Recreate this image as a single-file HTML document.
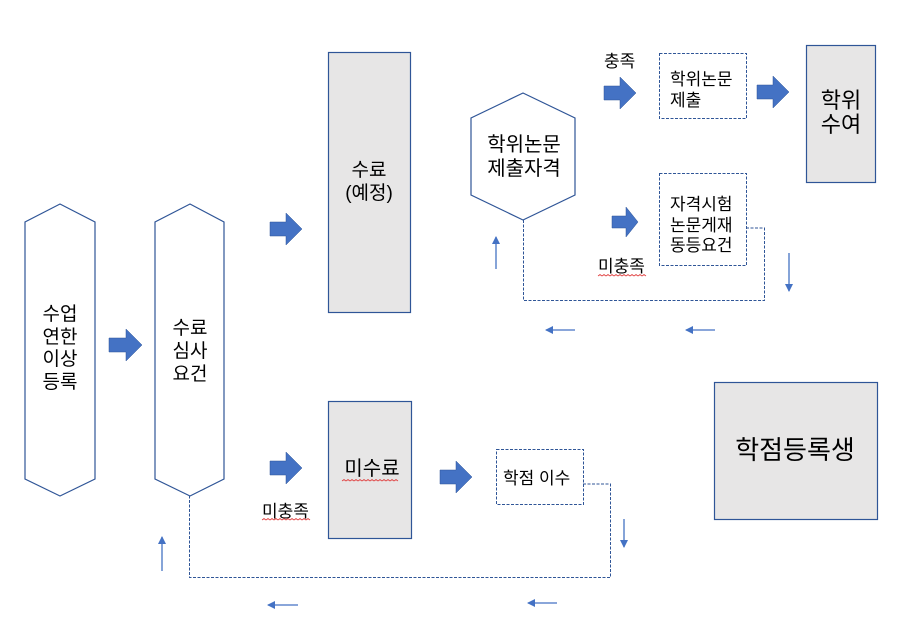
<!DOCTYPE html>
<html><head><meta charset="utf-8"><style>
html,body{margin:0;padding:0;background:#fff;}
svg{display:block;}
text{font-family:"Liberation Sans","Noto Sans CJK KR",sans-serif;fill:#000;}
</style></head><body>
<svg width="903" height="624" viewBox="0 0 903 624" xmlns="http://www.w3.org/2000/svg">
<defs>
<marker id="ah" markerWidth="8" markerHeight="8" refX="7" refY="4" orient="auto" markerUnits="userSpaceOnUse">
<path d="M0,0 L8,4 L0,8 z" fill="#4472c4"/></marker>
</defs>
<g fill="none" stroke="#2f5597" stroke-width="1.2">
<polygon points="60,204 95,222 95,479 60,496 25,479 25,222" fill="#fff"/>
<polygon points="190,204 224,222 224,479 190,496 155,479 155,222" fill="#fff"/>
<polygon points="523,93 575,118 575,195 523,220 471,195 471,118" fill="#fff"/>
<rect x="328.5" y="52.5" width="82" height="260" fill="#e7e6e6"/>
<rect x="328.5" y="401.5" width="83" height="137" fill="#e7e6e6"/>
<rect x="806.5" y="45.5" width="69" height="137" fill="#e7e6e6"/>
<rect x="714.5" y="382.5" width="163" height="137" fill="#e7e6e6"/>
</g>
<g fill="none" stroke="#2f5597" stroke-width="1" stroke-dasharray="3,1.5">
<rect x="659.5" y="53.5" width="87" height="65"/>
<rect x="659.5" y="173.5" width="87" height="92"/>
<rect x="496.5" y="449.5" width="87" height="55"/>
<polyline points="746,228 764.5,228 764.5,300.5 523.5,300.5 523.5,220"/>
<polyline points="583,484 610.5,484 610.5,577.5 189.5,577.5 189.5,496"/>
</g>
<g fill="#4472c4" stroke="#2f5597" stroke-width="0.5">
<path d="M109,338 h17 v-9 l16,16 l-16,16 v-9 h-17 z"/>
<path d="M270,222 h16 v-9 l16,16 l-16,16 v-9 h-16 z"/>
<path d="M270,461 h16 v-9 l16,16 l-16,16 v-9 h-16 z"/>
<path d="M440,470 h16 v-9 l16,16 l-16,16 v-9 h-16 z"/>
<path d="M604,86 h16 v-9 l16,16 l-16,16 v-9 h-16 z"/>
<path d="M612,216 h14 v-9 l12,15 l-12,15 v-9 h-14 z"/>
<path d="M757,85 h16 v-9 l16,16 l-16,16 v-9 h-16 z"/>
</g>
<g stroke="#4472c4" stroke-width="1.3" marker-end="url(#ah)">
<line x1="496" y1="269" x2="496" y2="237"/>
<line x1="789" y1="253" x2="789" y2="291"/>
<line x1="575" y1="330" x2="546" y2="330"/>
<line x1="715" y1="330" x2="686" y2="330"/>
<line x1="162" y1="571" x2="162" y2="537"/>
<line x1="624" y1="519" x2="624" y2="547"/>
<line x1="298" y1="605" x2="268" y2="605"/>
<line x1="557" y1="603" x2="528" y2="603"/>
</g>
<g font-size="19" text-anchor="middle">
<text x="60" y="320">수업</text><text x="60" y="343">연한</text><text x="60" y="365">이상</text><text x="60" y="388">등록</text>
<text x="190" y="334">수료</text><text x="190" y="357">심사</text><text x="190" y="380">요건</text>
<text x="369" y="176">수료</text><text x="369" y="199">(예정)</text>
<text x="372" y="475" font-size="20">미수료</text>
<text x="524" y="151" font-size="20">학위논문</text><text x="524" y="175" font-size="20">제출자격</text>
</g>
<g font-size="17">
<text x="670" y="85">학위논문</text><text x="670" y="106">제출</text>
<text x="670" y="210">자격시험</text><text x="670" y="231">논문게재</text><text x="670" y="251">동등요건</text>
<text x="503" y="484">학점 이수</text>
<text x="604" y="67">충족</text>
<text x="598" y="272">미충족</text>
<text x="262" y="517">미충족</text>
</g>
<g font-size="22" text-anchor="middle">
<text x="841" y="108">학위</text><text x="841" y="132">수여</text>
<text x="795" y="459" font-size="26">학점등록생</text>
</g>
<g stroke="#e04040" stroke-width="0.8" fill="none">
<path d="M342,481 l2,-1.5 l2,1.5 l2,-1.5 l2,1.5 l2,-1.5 l2,1.5 l2,-1.5 l2,1.5 l2,-1.5 l2,1.5 l2,-1.5 l2,1.5 l2,-1.5 l2,1.5 l2,-1.5 l2,1.5 l2,-1.5 l2,1.5 l2,-1.5 l2,1.5 l2,-1.5 l2,1.5 l2,-1.5 l2,1.5 l2,-1.5 l2,1.5 l2,-1.5 l2,1.5"/>
<path d="M598,276 l2,-1.5 l2,1.5 l2,-1.5 l2,1.5 l2,-1.5 l2,1.5 l2,-1.5 l2,1.5 l2,-1.5 l2,1.5 l2,-1.5 l2,1.5 l2,-1.5 l2,1.5 l2,-1.5 l2,1.5 l2,-1.5 l2,1.5 l2,-1.5 l2,1.5 l2,-1.5 l2,1.5 l2,-1.5 l2,1.5"/>
<path d="M262,520 l2,-1.5 l2,1.5 l2,-1.5 l2,1.5 l2,-1.5 l2,1.5 l2,-1.5 l2,1.5 l2,-1.5 l2,1.5 l2,-1.5 l2,1.5 l2,-1.5 l2,1.5 l2,-1.5 l2,1.5 l2,-1.5 l2,1.5 l2,-1.5 l2,1.5 l2,-1.5 l2,1.5 l2,-1.5 l2,1.5"/>
</g>
</svg>
</body></html>
